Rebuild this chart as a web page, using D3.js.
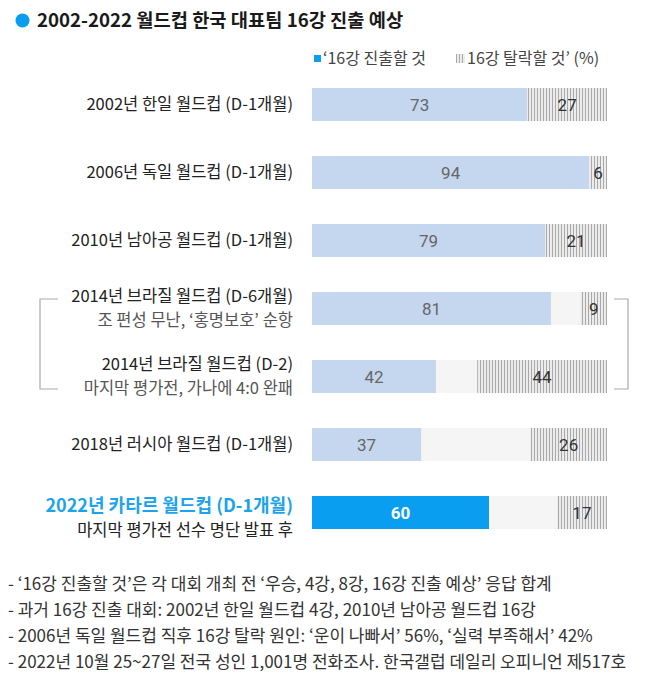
<!DOCTYPE html>
<html><head><meta charset="utf-8">
<script src="https://cdn.jsdelivr.net/npm/d3@7"></script>
<style>
html,body{margin:0;padding:0;background:#fff;}
svg{display:block;font-family:"Noto Sans CJK KR","Noto Sans",sans-serif;}
</style></head>
<body>
<svg id="chart" width="650" height="689"></svg>
<script>
const title = "2002-2022 월드컵 한국 대표팀 16강 진출 예상";
const categories = [
  "2002년 한일 월드컵 (D-1개월)",
  "2006년 독일 월드컵 (D-1개월)",
  "2010년 남아공 월드컵 (D-1개월)",
  "2014년 브라질 월드컵 (D-6개월)",
  "2014년 브라질 월드컵 (D-2)",
  "2018년 러시아 월드컵 (D-1개월)",
  "2022년 카타르 월드컵 (D-1개월)"
];
const subLabels = ["", "", "", "조 편성 무난, ‘홍명보호’ 순항", "마지막 평가전, 가나에 4:0 완패", "", "마지막 평가전 선수 명단 발표 후"];
const advance = [73, 94, 79, 81, 42, 37, 60];
const eliminate = [27, 6, 21, 9, 44, 26, 17];
const legendLabels = ["‘16강 진출할 것", "16강 탈락할 것’ (%)"];
const notes = [
  "- ‘16강 진출할 것’은 각 대회 개최 전 ‘우승, 4강, 8강, 16강 진출 예상’ 응답 합계",
  "- 과거 16강 진출 대회: 2002년 한일 월드컵 4강, 2010년 남아공 월드컵 16강",
  "- 2006년 독일 월드컵 직후 16강 탈락 원인: ‘운이 나빠서’ 56%, ‘실력 부족해서’ 42%",
  "- 2022년 10월 25~27일 전국 성인 1,001명 전화조사. 한국갤럽 데일리 오피니언 제517호"
];
const highlightIndex = 6;

const svg = d3.select("#chart");
const defs = svg.append("defs");
const pat = defs.append("pattern").attr("id","hatch").attr("patternUnits","userSpaceOnUse")
  .attr("width",3).attr("height",10);
pat.append("rect").attr("width",3).attr("height",10).attr("fill","#ececec");
pat.append("rect").attr("x",0).attr("width",1).attr("height",10).attr("fill","#a9a9a9");

const x = d3.scaleLinear().domain([0,100]).range([312,607]);
const y = d3.scaleBand().domain(d3.range(categories.length)).range([70.5,546.5]).paddingInner(0.5147).paddingOuter(0.2574);

// title
svg.append("circle").attr("cx",22.5).attr("cy",20.5).attr("r",7).attr("fill","#0a9ef0");
svg.append("text").attr("x",37).attr("y",20.5).attr("dy","0.36em")
  .attr("font-size",18.7).attr("font-weight",700).attr("fill","#1a1a1a").text(title);

// legend
svg.append("rect").attr("x",314).attr("y",55).attr("width",7).attr("height",7).attr("fill","#0a9ef0");
svg.append("text").attr("x",323).attr("y",58.5).attr("dy","0.36em").attr("font-size",16).attr("fill","#444").text(legendLabels[0]);
svg.append("rect").attr("x",456).attr("y",54).attr("width",9).attr("height",9).attr("fill","url(#hatch)");
svg.append("text").attr("x",467).attr("y",58.5).attr("dy","0.36em").attr("font-size",16).attr("fill","#444").text(legendLabels[1]);

const rows = svg.append("g").selectAll("g").data(categories).join("g");

// background
rows.append("rect").attr("x",x(0)).attr("y",(d,i)=>y(i)).attr("width",x(100)-x(0)).attr("height",y.bandwidth()).attr("fill","#f5f5f5");
// advance
rows.append("rect").attr("x",x(0)).attr("y",(d,i)=>y(i)).attr("width",(d,i)=>x(advance[i])-x(0)).attr("height",y.bandwidth())
  .attr("fill",(d,i)=> i===highlightIndex ? "#0a9ef0" : "#c5d7ef");
// eliminate (hatched, right aligned)
rows.append("rect").attr("x",(d,i)=>x(100-eliminate[i])).attr("y",(d,i)=>y(i)).attr("width",(d,i)=>x(100)-x(100-eliminate[i])).attr("height",y.bandwidth())
  .attr("fill","url(#hatch)");

// values
const numFont = "Roboto, 'Noto Sans', sans-serif";
rows.append("text").attr("x",(d,i)=>(x(0)+x(advance[i]))/2).attr("y",(d,i)=>y(i)+y.bandwidth()/2).attr("dy","0.36em")
  .attr("text-anchor","middle").attr("font-family",numFont).attr("font-size",17)
  .attr("font-weight",(d,i)=> i===highlightIndex ? 700 : 400)
  .attr("fill",(d,i)=> i===highlightIndex ? "#fff" : "#666").text((d,i)=>advance[i]);
rows.append("text").attr("x",(d,i)=>(x(100-eliminate[i])+x(100))/2).attr("y",(d,i)=>y(i)+y.bandwidth()/2).attr("dy","0.36em")
  .attr("text-anchor","middle").attr("font-family",numFont).attr("font-size",17)
  .attr("fill","#333").text((d,i)=>eliminate[i]);

// labels
rows.each(function(d,i){
  const g = d3.select(this);
  const c = y(i)+y.bandwidth()/2;
  const hl = i===highlightIndex;
  if(subLabels[i]){
    const o1 = hl ? -7 : -12, o2 = hl ? 18 : 12;
    g.append("text").attr("x",293).attr("y",c+o1).attr("dy","0.36em").attr("text-anchor","end")
      .attr("font-size",hl?18:16.5).attr("font-weight",hl?700:400).attr("fill",hl?"#1ba3ec":"#222").text(d);
    g.append("text").attr("x",293).attr("y",c+o2).attr("dy","0.36em").attr("text-anchor","end")
      .attr("font-size",16.5).attr("fill",hl?"#222":"#555").text(subLabels[i]);
  } else {
    g.append("text").attr("x",293).attr("y",c).attr("dy","0.36em").attr("text-anchor","end")
      .attr("font-size",16.5).attr("fill","#222").text(d);
  }
});

// brackets
const b1 = y(3)+7, b2 = y(4)+y.bandwidth()-4;
svg.append("path").attr("d",`M58,${b1}H40V${b2}H58`).attr("fill","none").attr("stroke","#aaa").attr("stroke-width",1.2);
svg.append("path").attr("d",`M614,${b1}H628V${b2}H614`).attr("fill","none").attr("stroke","#aaa").attr("stroke-width",1.2);

// notes
svg.append("g").selectAll("text").data(notes).join("text")
  .attr("x",8).attr("y",(d,i)=>584+i*26).attr("dy","0.36em").attr("font-size",17).attr("fill","#333").text(d=>d);
</script>
</body></html>
